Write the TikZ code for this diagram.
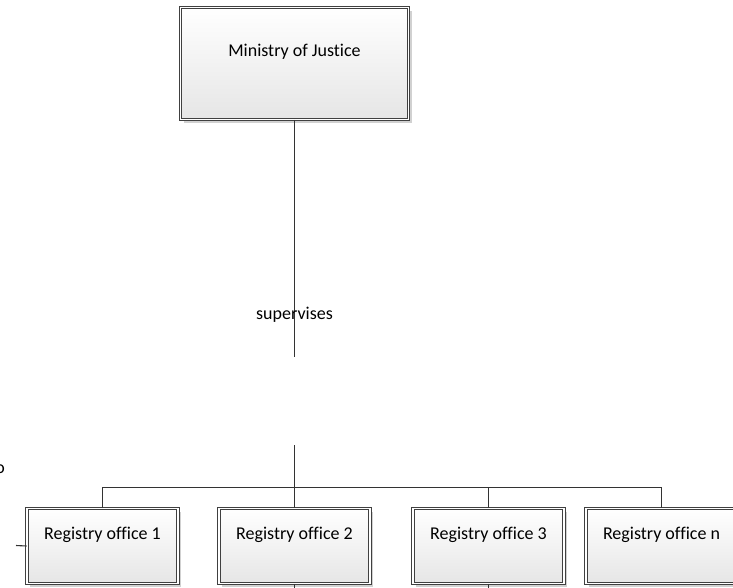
\documentclass[tikz,border=0pt]{standalone}
\usepackage{fontspec}
\setmainfont[Ligatures={NoCommon}]{Carlito}
\usetikzlibrary{shadows}
\tikzset{
    boxD/.style args={#1 #2 #3}{
        draw=black!75, line width=.8pt, double=white, double distance=1.6pt,
        top color=white, bottom color=black!10,
        drop shadow={shadow xshift=3pt, shadow yshift=-3pt, fill=black, opacity=.18},
        minimum width=#1, text height=#2, text depth=#3, inner ysep=0pt, inner xsep=0pt,
        font=\fontsize{18}{20}\selectfont
    },
    lineG/.style={draw=black!80, line width=1.1pt}
}

\begin{document}
\begin{tikzpicture}[x=1pt, y=-1pt]
    \useasboundingbox (0,0) rectangle (733,587);
    \node[boxD={228pt 48.5pt 63.5pt}] (mj) at (294.5,63.5) {Ministry of Justice};
    \node[boxD={151pt 31pt 44pt}] (ro1) at (102.5,546) {Registry office 1};
    \node[boxD={151pt 31pt 44pt}] (ro2) at (294.5,546) {Registry office 2};
    \node[boxD={151pt 31pt 44pt}] (ro3) at (488.5,546) {Registry office 3};
    \node[boxD={151pt 31pt 44pt}] (ron) at (661.5,546) {Registry office n};
    \node[font=\fontsize{18}{20}\selectfont, inner sep=0pt] (cut) at (0,469) {o};
    \coordinate (svA) at (294.5,357);
    \coordinate (svB) at (294.5,445);
    \coordinate (bus) at (294.5,487.5);
    \coordinate (stubL) at (16,545.5);
    \coordinate (ro2D) at (294.5,595);
    \coordinate (ro3D) at (488.5,595);
    \draw[lineG] (mj.south) -- node[pos=.82, font=\fontsize{18}{20}\selectfont]{supervises} (svA);
    \draw[lineG] (svB) -- (ro2.north);
    \draw[lineG] (ro1.north) |- (bus) -| (ron.north);
    \draw[lineG] (ro3.north) |- (bus);
    \draw[lineG] (stubL) -- (ro1.west);
    \draw[lineG] (ro2.south) -- (ro2D);
    \draw[lineG] (ro3.south) -- (ro3D);
\end{tikzpicture}
\end{document}
